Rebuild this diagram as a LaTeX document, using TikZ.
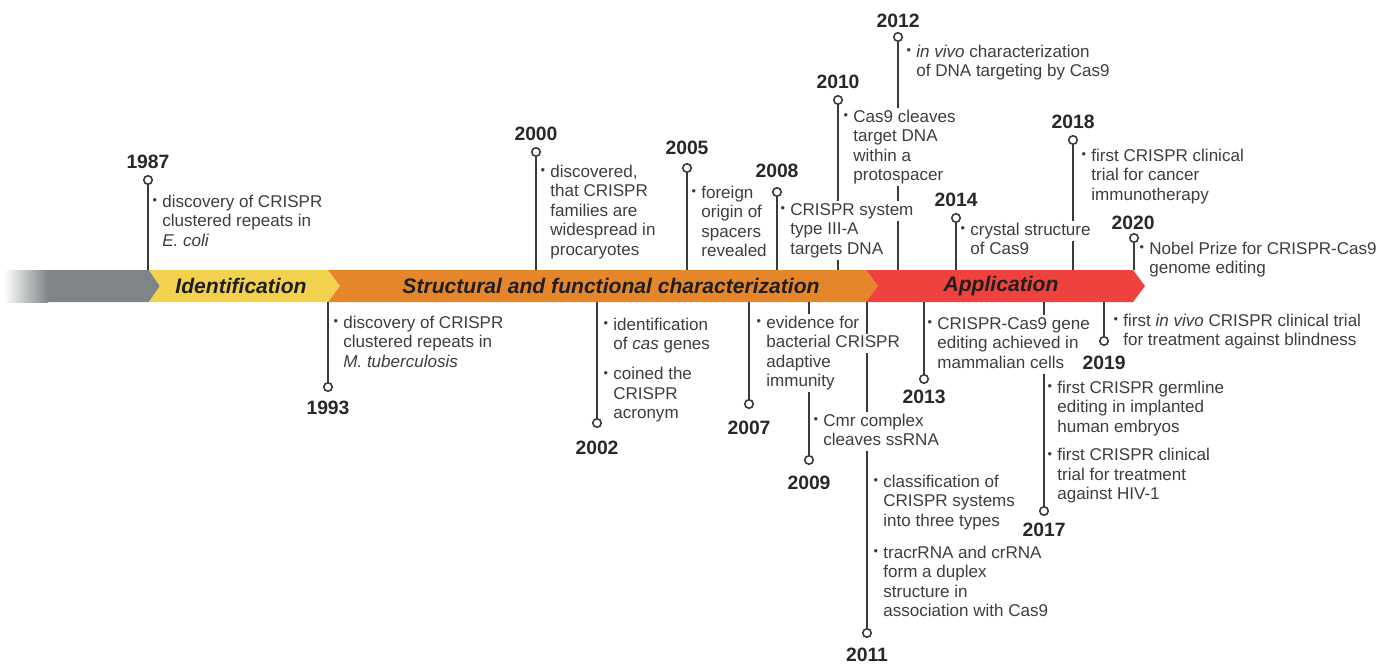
\documentclass[tikz,border=0pt]{standalone}
\usepackage{fontspec}
\setmainfont{Liberation Sans}
\usepackage{graphicx}
\usetikzlibrary{positioning}

\definecolor{bandgray}{RGB}{127, 132, 134}
\definecolor{bandyellow}{RGB}{242, 209, 78}
\definecolor{bandorange}{RGB}{229, 134, 42}
\definecolor{bandred}{RGB}{239, 65, 62}
\definecolor{stemgray}{RGB}{58, 58, 58}
\definecolor{notegray}{RGB}{62, 62, 62}
\definecolor{yeargray}{RGB}{40, 40, 40}

% white knock-out behind one text line (also its strut), and a small bullet
\newsavebox{\klbox}
\newcommand{\kl}[1]{\sbox{\klbox}{#1}\rlap{\hspace{-2.5pt}\textcolor{white}{\rule[-3pt]{\dimexpr\wd\klbox+6.5pt\relax}{11pt}}}\usebox{\klbox}}
\newcommand{\bul}{\llap{\raisebox{0.3ex}{\scalebox{0.75}{•}}\hspace{3pt}}}

\begin{document}
\begin{tikzpicture}[x=0.02cm, y=-0.02cm,
  stem/.style={draw=stemgray, line width=1.1pt},
  dot/.style={circle, draw=stemgray, fill=white, line width=0.9pt, inner sep=0pt, minimum size=0.17cm},
  year/.style={font=\fontsize{11}{13}\selectfont\bfseries, text=yeargray, inner sep=0pt},
  note/.style={font=\fontsize{9.7}{11.1}\selectfont, text=notegray, align=left, anchor=north west, inner sep=0pt},
  phase/.style={font=\fontsize{12}{14}\selectfont\bfseries\itshape, text=black!88}]
  \useasboundingbox (0,0) rectangle (1386,663);

  % The time band
  \shade[left color=white, right color=bandgray] (4,270) rectangle (48,302);
  \fill[bandgray] (47,270) -- (149,270) -- (160,286) -- (149,302) -- (47,302) -- cycle;
  \fill[bandyellow] (149,270) -- (328,270) -- (340,286) -- (328,302) -- (149,302) -- (160,286) -- cycle;
  \fill[bandorange] (328,270) -- (866,270) -- (878,286) -- (866,302) -- (328,302) -- (340,286) -- cycle;
  \fill[bandred] (866,270) -- (1133,270) -- (1145,286) -- (1133,302) -- (866,302) -- (878,286) -- cycle;
  \node[phase] (ident) at (241,286) {Identification};
  \node[phase] (struct) at (611,286) {Structural and functional characterization};
  \node[phase] (appl) at (1001,286) {Application};

  % Stems above the band
  \coordinate (b1987) at (148,270);
  \node[dot] (d1987) at (148,180) {};
  \node[year] (y1987) at (148,162) {1987};
  \draw[stem] (b1987) -- (d1987);

  \coordinate (b2000) at (536,270);
  \node[dot] (d2000) at (536,152) {};
  \node[year] (y2000) at (536,134) {2000};
  \draw[stem] (b2000) -- (d2000);

  \coordinate (b2005) at (687,270);
  \node[dot] (d2005) at (687,168) {};
  \node[year] (y2005) at (687,148) {2005};
  \draw[stem] (b2005) -- (d2005);

  \coordinate (b2008) at (777,270);
  \node[dot] (d2008) at (777,192) {};
  \node[year] (y2008) at (777,171) {2008};
  \draw[stem] (b2008) -- (d2008);

  \coordinate (b2010) at (838,270);
  \node[dot] (d2010) at (838,100) {};
  \node[year] (y2010) at (838,82) {2010};
  \draw[stem] (b2010) -- (d2010);

  \coordinate (b2012) at (898,270);
  \node[dot] (d2012) at (898,37) {};
  \node[year] (y2012) at (898,21) {2012};
  \draw[stem] (b2012) -- (d2012);

  \coordinate (b2014) at (956,270);
  \node[dot] (d2014) at (956,218) {};
  \node[year] (y2014) at (956,200) {2014};
  \draw[stem] (b2014) -- (d2014);

  \coordinate (b2018) at (1073,270);
  \node[dot] (d2018) at (1073,140) {};
  \node[year] (y2018) at (1073,122) {2018};
  \draw[stem] (b2018) -- (d2018);

  \coordinate (b2020) at (1134,270);
  \node[dot] (d2020) at (1134,238) {};
  \node[year] (y2020) at (1133,223) {2020};
  \draw[stem] (b2020) -- (d2020);

  % Stems below the band
  \coordinate (b1993) at (328,302);
  \node[dot] (d1993) at (328,387) {};
  \node[year] (y1993) at (328,408) {1993};
  \draw[stem] (b1993) -- (d1993);

  \coordinate (b2002) at (597,302);
  \node[dot] (d2002) at (597,423) {};
  \node[year] (y2002) at (597,448) {2002};
  \draw[stem] (b2002) -- (d2002);

  \coordinate (b2007) at (749,302);
  \node[dot] (d2007) at (749,404) {};
  \node[year] (y2007) at (749,428) {2007};
  \draw[stem] (b2007) -- (d2007);

  \coordinate (b2009) at (809,302);
  \node[dot] (d2009) at (809,460) {};
  \node[year] (y2009) at (809,483) {2009};
  \draw[stem] (b2009) -- (d2009);

  \coordinate (b2011) at (867,302);
  \node[dot] (d2011) at (867,633) {};
  \node[year] (y2011) at (867,655) {2011};
  \draw[stem] (b2011) -- (d2011);

  \coordinate (b2013) at (924,302);
  \node[dot] (d2013) at (924,379) {};
  \node[year] (y2013) at (924,397) {2013};
  \draw[stem] (b2013) -- (d2013);

  \coordinate (b2017) at (1044,302);
  \node[dot] (d2017) at (1044,511) {};
  \node[year] (y2017) at (1044,530) {2017};
  \draw[stem] (b2017) -- (d2017);

  \coordinate (b2019) at (1104,302);
  \node[dot] (d2019) at (1104,341) {};
  \node[year] (y2019) at (1104,363) {2019};
  \draw[stem] (b2019) -- (d2019);

  % Event texts
  \node[note] (n1987) at (162,193) {\bul\kl{discovery of CRISPR}\\\kl{clustered repeats in}\\\kl{\textit{E. coli}}};
  \node[note] (n1993) at (343,314) {\bul\kl{discovery of CRISPR}\\\kl{clustered repeats in}\\\kl{\textit{M. tuberculosis}}};
  \node[note] (n2000) at (550,163) {\bul\kl{discovered,}\\\kl{that CRISPR}\\\kl{families are}\\\kl{widespread in}\\\kl{procaryotes}};
  \node[note] (n2002) at (613,316) {\bul\kl{identification}\\\kl{of \textit{cas} genes}\\[6pt]\bul\kl{coined the}\\\kl{CRISPR}\\\kl{acronym}};
  \node[note] (n2005) at (701,184) {\bul\kl{foreign}\\\kl{origin of}\\\kl{spacers}\\\kl{revealed}};
  \node[note] (n2007) at (766,314) {\bul\kl{evidence for}\\\kl{bacterial CRISPR}\\\kl{adaptive}\\\kl{immunity}};
  \node[note] (n2008) at (790,201) {\bul\kl{CRISPR system}\\\kl{type III-A}\\\kl{targets DNA}};
  \node[note] (n2009) at (823,412) {\bul\kl{Cmr complex}\\\kl{cleaves ssRNA}};
  \node[note] (n2010) at (853,108) {\bul\kl{Cas9 cleaves}\\\kl{target DNA}\\\kl{within a}\\\kl{protospacer}};
  \node[note] (n2011) at (883,473) {\bul\kl{classification of}\\\kl{CRISPR systems}\\\kl{into three types}\\[7pt]\bul\kl{tracrRNA and crRNA}\\\kl{form a duplex}\\\kl{structure in}\\\kl{association with Cas9}};
  \node[note] (n2012) at (916,43) {\bul\kl{\textit{in vivo} characterization}\\\kl{of DNA targeting by Cas9}};
  \node[note] (n2013) at (937,315) {\bul\kl{CRISPR-Cas9 gene}\\\kl{editing achieved in}\\\kl{mammalian cells}};
  \node[note] (n2014) at (970,221) {\bul\kl{crystal structure}\\\kl{of Cas9}};
  \node[note] (n2017) at (1057,379) {\bul\kl{first CRISPR germline}\\\kl{editing in implanted}\\\kl{human embryos}\\[5pt]\bul\kl{first CRISPR clinical}\\\kl{trial for treatment}\\\kl{against HIV-1}};
  \node[note] (n2018) at (1091,147) {\bul\kl{first CRISPR clinical}\\\kl{trial for cancer}\\\kl{immunotherapy}};
  \node[note] (n2019) at (1123,312) {\bul\kl{first \textit{in vivo} CRISPR clinical trial}\\\kl{for treatment against blindness}};
  \node[note] (n2020) at (1149,240) {\bul\kl{Nobel Prize for CRISPR-Cas9}\\\kl{genome editing}};
\end{tikzpicture}
\end{document}
